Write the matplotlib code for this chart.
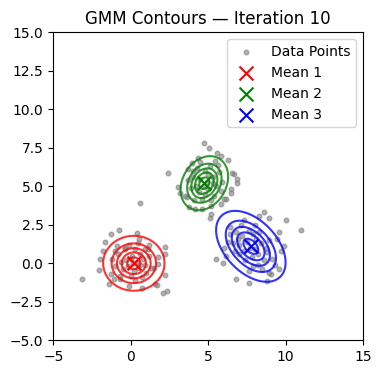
import numpy as np
from matplotlib import pyplot as plt

# data points, one list per cluster (x, y)
red_pts = [(-3.17, -0.99), (-1.29, 1.88), (-0.76, 2.14), (-1.66, 1.41), (0.41, 1.95),
           (0.52, 1.56), (2.18, 1.08), (2.18, 0.63), (-1.98, 0.26), (-2.04, -0.45),
           (-1.4, -1.36), (0.73, -1.58), (1.58, -1.36), (1.69, -1.43), (2.22, -0.75),
           (2.33, -1.8), (2.11, -1.9), (-1.08, -1.04), (0.62, 3.89), (1.15, 1.19),
           (1.79, 0.44), (-0.12, -1.47), (-0.66, -1.04), (-1.82, 0.8), (-1.02, 0.8),
           (1.47, -0.28), (1.75, -0.06), (-1.29, -0.71), (-0.34, 1.02), (0.94, 0.91),
           (0.1, 0.5), (-0.3, 0.2), (0.5, -0.3), (0.8, 0.3), (-0.5, -0.4),
           (0.3, 0.9), (-0.8, 0.6), (1.0, -0.6), (0.0, -0.8), (-0.2, -0.2),
           (0.6, 0.6), (-0.6, 0.1), (0.4, 0.1), (0.9, -0.1), (-1.0, -0.2),
           (0.2, -0.5), (-0.4, 0.9), (1.2, 0.5), (-0.1, 1.2), (0.7, -0.9),
           (-0.7, -0.8), (1.3, -0.3), (0.0, 0.3), (0.5, 1.3), (-1.2, 0.3),
           (0.3, -1.1), (1.1, 0.9), (-0.9, 1.1), (0.15, 0.0), (0.6, -0.1)]
green_pts = [(4.73, 7.79), (5.05, 7.51), (5.56, 7.19), (5.84, 6.97), (2.43, 5.84),
             (6.55, 5.84), (6.84, 5.5), (6.84, 5.19), (6.48, 4.81), (6.48, 4.55),
             (6.16, 4.2), (5.84, 3.83), (3.07, 4.98), (3.18, 4.59), (3.77, 3.68),
             (4.14, 3.51), (4.57, 3.55), (5.2, 3.18), (5.1, 2.97), (3.93, 6.53),
             (4.35, 6.86), (5.42, 6.64), (6.27, 6.71), (6.69, 5.79), (3.5, 4.37),
             (6.05, 4.16), (5.2, 3.72), (3.71, 6.1),
             (4.5, 5.5), (5.0, 4.8), (4.2, 5.0), (5.3, 5.6), (4.8, 6.0),
             (4.4, 4.6), (5.5, 5.0), (4.0, 5.6), (5.1, 6.3), (4.6, 4.2),
             (5.7, 5.9), (3.9, 4.9), (4.9, 5.3), (5.4, 4.4), (4.3, 6.2),
             (5.9, 5.3), (4.7, 5.0), (3.7, 5.4), (5.2, 4.1), (4.1, 4.1),
             (5.8, 4.7), (4.5, 6.6), (5.0, 5.8), (4.0, 6.0), (5.6, 6.4),
             (3.6, 4.3), (4.8, 4.5), (5.3, 5.2)]
blue_pts = [(10.0, 2.79), (11.0, 2.14), (8.61, 3.35), (8.93, 2.97), (8.29, 3.07),
            (5.5, 0.26), (5.95, 0.05), (6.76, -1.0), (7.65, -1.25), (8.82, -1.15),
            (9.04, -0.71), (9.57, -0.39), (9.68, 0.8), (9.89, 1.12), (9.46, 1.56),
            (6.4, 2.37), (6.05, 1.02), (6.16, 0.47), (9.57, 2.0), (8.93, -0.6),
            (7.2, 1.8), (8.2, 0.6), (7.5, 1.4), (8.0, 0.9), (6.8, 2.0),
            (8.6, 0.2), (7.0, 1.2), (8.4, 1.3), (7.8, 0.4), (7.3, 0.8),
            (8.8, 0.7), (6.9, 1.6), (7.6, 2.1), (8.1, 1.6), (7.9, -0.2),
            (7.4, 0.2), (8.5, -0.4), (6.6, 1.3), (8.9, 1.5), (7.1, 2.5),
            (7.7, 1.0), (8.3, 2.0), (6.4, 1.9), (9.1, 0.3), (7.6, -0.5),
            (8.7, 1.0), (7.0, 0.6), (7.9, 1.9), (6.7, 0.8), (8.2, -0.1),
            (9.3, -0.1), (7.3, 2.8), (8.0, 2.5), (6.3, 1.4)]

# fitted GMM parameters at iteration 10
means = [(0.2, 0.0), (4.75, 5.2), (7.75, 1.1)]
covs = [[[0.85, 0.0], [0.0, 0.69]],
        [[0.51, 0.14], [0.14, 0.67]],
        [[1.09, -0.51], [-0.51, 1.15]]]
colors = ['red', 'green', 'blue']
labels = ['Mean 1', 'Mean 2', 'Mean 3']
level_frac = [0.1, 0.3, 0.5, 0.7, 0.9]


def gauss_pdf(X, Y, mu, cov):
    cov = np.array(cov)
    inv = np.linalg.inv(cov)
    dx = X - mu[0]
    dy = Y - mu[1]
    q = inv[0, 0] * dx * dx + 2 * inv[0, 1] * dx * dy + inv[1, 1] * dy * dy
    return np.exp(-0.5 * q) / (2 * np.pi * np.sqrt(np.linalg.det(cov)))


pts = np.array(red_pts + green_pts + blue_pts)

fig, ax = plt.subplots(figsize=(4, 4))
ax.scatter(pts[:, 0], pts[:, 1], s=11, color='gray', alpha=0.6, label='Data Points')

xs = np.linspace(-5, 15, 400)
ys = np.linspace(-5, 15, 400)
X, Y = np.meshgrid(xs, ys)
for mu, cov, color, label in zip(means, covs, colors, labels):
    Z = gauss_pdf(X, Y, mu, cov)
    peak = Z.max()
    ax.contour(X, Y, Z, levels=[f * peak for f in level_frac], colors=color, alpha=0.8)
    ax.scatter(mu[0], mu[1], marker='x', s=100, color=color, label=label)

ax.set_xlim(-5, 15)
ax.set_ylim(-5, 15)
ax.set_title('GMM Contours — Iteration 10')
ax.legend(loc='upper right')
fig.savefig('out.png', dpi=100, bbox_inches='tight')
plt.close()
